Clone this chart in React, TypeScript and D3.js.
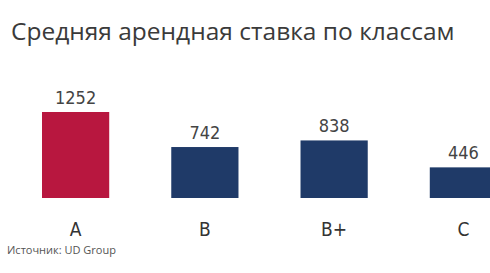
import React from 'react';
import * as d3 from 'd3';

const categories = ['A', 'B', 'B+', 'C'];
const values = [1252, 742, 838, 446];
const highlight = ['A'];

const title = 'Средняя арендная ставка по классам';
const source = 'Источник: UD Group';

export default function App() {
  const width = 490;
  const height = 273;
  const baseY = 198;

  const x = d3
    .scaleBand<string>()
    .domain(categories)
    .range([42, 497])
    .paddingInner(0.48)
    .paddingOuter(0);

  // 1252 -> ~86px tall
  const y = d3.scaleLinear().domain([0, 1252]).range([baseY, 112]);

  return (
    <svg
      width={width}
      height={height}
      style={{ position: 'absolute', left: 0, top: 0, background: '#fff' }}
    >
      <text
        x={11}
        y={40}
        fontFamily="'Open Sans', sans-serif"
        fontSize={24.5}
        fill="#3a3a3a"
      >
        {title}
      </text>

      {categories.map((c, i) => {
        const bx = x(c) as number;
        const top = y(values[i]);
        return (
          <g key={c}>
            <rect
              x={bx}
              y={top}
              width={x.bandwidth()}
              height={baseY - top}
              fill={highlight.includes(c) ? '#b8173f' : '#1f3a68'}
            />
            <text
              x={bx + x.bandwidth() / 2}
              y={top - 8}
              textAnchor="middle"
              fontFamily="'DejaVu Sans Condensed', 'DejaVu Sans', sans-serif"
              fontSize={18}
              fill="#444"
            >
              {values[i]}
            </text>
            <text
              x={bx + x.bandwidth() / 2}
              y={236}
              textAnchor="middle"
              fontFamily="'DejaVu Sans Condensed', 'DejaVu Sans', sans-serif"
              fontSize={19}
              fill="#333"
            >
              {c}
            </text>
          </g>
        );
      })}

      <text
        x={7}
        y={254}
        fontFamily="'Open Sans', sans-serif"
        fontSize={11}
        fill="#555"
      >
        {source}
      </text>
    </svg>
  );
}
